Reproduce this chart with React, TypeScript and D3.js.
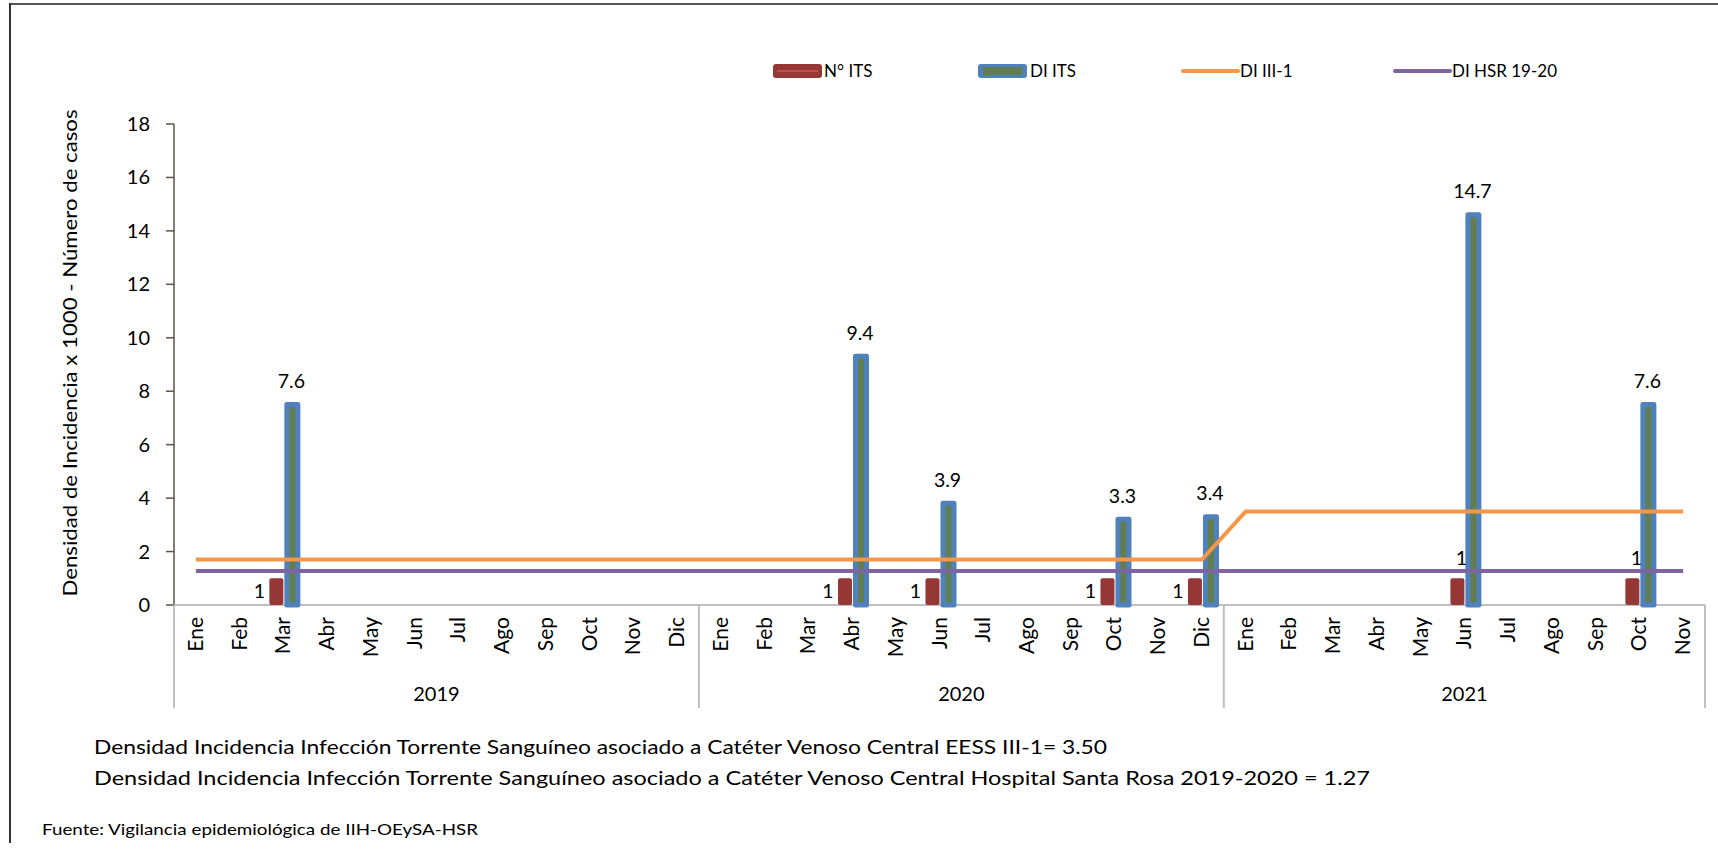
import React from "react";
import * as d3 from "d3";

const years = ["2019", "2020", "2021"];
const monthsPerYear = [12, 12, 11];
const monthNames = ["Ene", "Feb", "Mar", "Abr", "May", "Jun", "Jul", "Ago", "Sep", "Oct", "Nov", "Dic"];

// N° ITS (cases) per month, 2019-01 .. 2021-11
const nITS: (number | null)[] = [
  null, null, 1, null, null, null, null, null, null, null, null, null,
  null, null, null, 1, null, 1, null, null, null, 1, null, 1,
  null, null, null, null, null, 1, null, null, null, 1, null,
];
// DI ITS (density) per month
const diITS: (number | null)[] = [
  null, null, 7.6, null, null, null, null, null, null, null, null, null,
  null, null, null, 9.4, null, 3.9, null, null, null, 3.3, null, 3.4,
  null, null, null, null, null, 14.7, null, null, null, 7.6, null,
];
// DI III-1 reference
const diIII1: number[] = [
  1.7, 1.7, 1.7, 1.7, 1.7, 1.7, 1.7, 1.7, 1.7, 1.7, 1.7, 1.7,
  1.7, 1.7, 1.7, 1.7, 1.7, 1.7, 1.7, 1.7, 1.7, 1.7, 1.7, 1.7,
  3.5, 3.5, 3.5, 3.5, 3.5, 3.5, 3.5, 3.5, 3.5, 3.5, 3.5,
];
// DI HSR 19-20 reference
const diHSR: number[] = [
  1.27, 1.27, 1.27, 1.27, 1.27, 1.27, 1.27, 1.27, 1.27, 1.27, 1.27, 1.27,
  1.27, 1.27, 1.27, 1.27, 1.27, 1.27, 1.27, 1.27, 1.27, 1.27, 1.27, 1.27,
  1.27, 1.27, 1.27, 1.27, 1.27, 1.27, 1.27, 1.27, 1.27, 1.27, 1.27,
];
const yTicks = [0, 2, 4, 6, 8, 10, 12, 14, 16, 18];

const legendItems = ["N° ITS", "DI ITS", "DI III-1", "DI HSR 19-20"];
const yTitle = "Densidad de Incidencia x 1000 - Número de casos";
const footer1 = "Densidad Incidencia Infección Torrente Sanguíneo asociado a Catéter Venoso Central EESS III-1= 3.50";
const footer2 = "Densidad Incidencia Infección Torrente Sanguíneo asociado a Catéter Venoso Central Hospital Santa Rosa 2019-2020  = 1.27";
const source = "Fuente: Vigilancia epidemiológica de IIH-OEySA-HSR";

const FONT = "Lato, 'Open Sans', sans-serif";
const RED = "#953735";
const BLUE = "#4F81BD";
const GREEN = "#617d52";
const ORANGE = "#F79646";
const PURPLE = "#8064A2";

export default function App() {
  const W = 1718, H = 853;
  const plotL = 174, plotR = 1705, plotT = 124, plotB = 605;

  const cats: { key: string; month: string; yearIdx: number }[] = [];
  years.forEach((y, yi) => {
    for (let m = 0; m < monthsPerYear[yi]; m++) cats.push({ key: `${y}-${m}`, month: monthNames[m], yearIdx: yi });
  });

  const x = d3.scaleBand<string>().domain(cats.map((c) => c.key)).range([plotL, plotR]).paddingInner(0).paddingOuter(0);
  const bw = x.bandwidth();
  const inner = d3.scaleBand<string>().domain(["n", "di"]).range([bw / 2 - 14, bw / 2 + 16]).padding(0);
  const y = d3.scaleLinear().domain([0, 18]).range([plotB, plotT]);
  const cx = (i: number) => (x(cats[i].key) as number) + bw / 2;

  const line = d3.line<number>().x((_, i) => cx(i)).y((d) => y(d));

  const yearBounds: number[] = [plotL];
  let acc = 0;
  monthsPerYear.forEach((n) => {
    acc += n;
    yearBounds.push(acc < cats.length ? (x(cats[acc].key) as number) : plotR);
  });

  const legendX = [773, 978, 1183, 1395];
  const legendY = 71;

  return (
    <svg width={W} height={H} style={{ position: "absolute", left: 0, top: 0, background: "#fff" }} fontFamily={FONT}>
      <rect x={0} y={0} width={W} height={H} fill="#fff" />
      {/* frame */}
      <line x1={10} y1={4} x2={W} y2={4} stroke="#555" strokeWidth={2} />
      <line x1={10} y1={3} x2={10} y2={843} stroke="#333" strokeWidth={2} />

      {/* legend */}
      <g fontSize={17} fill="#000">
        <rect x={legendX[0]} y={legendY - 7} width={49} height={14} rx={3} fill={RED} />
        <line x1={legendX[0] + 4} x2={legendX[0] + 45} y1={legendY} y2={legendY} stroke="#C0504D" strokeWidth={2} />
        <text x={legendX[0] + 51} y={legendY + 6}>{legendItems[0]}</text>

        <rect x={legendX[1]} y={legendY - 7} width={49} height={14} rx={3} fill={BLUE} />
        <rect x={legendX[1] + 5} y={legendY - 4} width={39} height={8} fill={GREEN} />
        <text x={legendX[1] + 52} y={legendY + 6}>{legendItems[1]}</text>

        <line x1={legendX[2]} x2={legendX[2] + 55} y1={legendY} y2={legendY} stroke={ORANGE} strokeWidth={4} strokeLinecap="round" />
        <text x={legendX[2] + 57} y={legendY + 6}>{legendItems[2]}</text>

        <line x1={legendX[3]} x2={legendX[3] + 55} y1={legendY} y2={legendY} stroke={PURPLE} strokeWidth={4} strokeLinecap="round" />
        <text x={legendX[3] + 57} y={legendY + 6}>{legendItems[3]}</text>
      </g>

      {/* y axis */}
      <line x1={plotL} x2={plotL} y1={plotT} y2={plotB} stroke="#5b5646" strokeWidth={1.5} />
      {yTicks.map((t) => (
        <g key={t}>
          <line x1={plotL - 8} x2={plotL} y1={y(t)} y2={y(t)} stroke="#5b5646" strokeWidth={1.5} />
          <text x={150} y={y(t) + 7} textAnchor="end" fontSize={20}>{t}</text>
        </g>
      ))}
      <text transform={`translate(77,353) rotate(-90)`} textAnchor="middle" fontSize={19.5} textLength={487} lengthAdjust="spacingAndGlyphs">
        {yTitle}
      </text>

      {/* category axis */}
      <line x1={plotL} x2={plotR} y1={plotB} y2={plotB} stroke="#BFBFBF" strokeWidth={2} />
      {yearBounds.map((b, i) => (
        <line key={i} x1={b} x2={b} y1={plotB} y2={708} stroke="#BFBFBF" strokeWidth={2} />
      ))}
      {cats.map((c, i) => (
        <text key={c.key} transform={`translate(${cx(i) + 7},617) rotate(-90)`} textAnchor="end" fontSize={21}>
          {c.month}
        </text>
      ))}
      {years.map((yr, i) => (
        <text key={yr} x={(yearBounds[i] + yearBounds[i + 1]) / 2} y={701} textAnchor="middle" fontSize={20}>
          {yr}
        </text>
      ))}

      {/* bars */}
      {nITS.map((v, i) =>
        v == null ? null : (
          <rect key={`n${i}`} x={(x(cats[i].key) as number) + (inner("n") as number)} y={y(v)} width={14}
            height={y(0) - y(v)} fill={RED} rx={2} />
        )
      )}
      {diITS.map((v, i) =>
        v == null ? null : (
          <rect key={`d${i}`} x={(x(cats[i].key) as number) + (inner("di") as number) + 2.5} y={y(v) + 2.5} width={11}
            height={y(0) - y(v) - 2.5} fill={GREEN} stroke={BLUE} strokeWidth={5} strokeLinejoin="round" />
        )
      )}

      {/* lines */}
      <path d={line(diIII1) as string} fill="none" stroke={ORANGE} strokeWidth={4} />
      <path d={line(diHSR) as string} fill="none" stroke={PURPLE} strokeWidth={4} />

      {/* labels */}
      {nITS.map((v, i) =>
        v == null ? null : cats[i].yearIdx < 2 ? (
          <text key={`ln${i}`} x={cx(i) - 24} y={y(0) - 7} textAnchor="middle" fontSize={19.5}>{v}</text>
        ) : (
          <text key={`ln${i}`} x={cx(i) - 3} y={y(v) - 13} textAnchor="middle" fontSize={19.5}>{v}</text>
        )
      )}
      {diITS.map((v, i) =>
        v == null ? null : (
          <text key={`ld${i}`} x={cx(i) + 8} y={y(v) - 14} textAnchor="middle" fontSize={19.5}>{v.toFixed(1)}</text>
        )
      )}

      {/* footer */}
      <text x={94} y={754} fontSize={19} textLength={1013} lengthAdjust="spacingAndGlyphs">{footer1}</text>
      <text x={94} y={785} fontSize={19} textLength={1276} lengthAdjust="spacingAndGlyphs">{footer2}</text>
      <text x={42} y={835} fontSize={15} textLength={436} lengthAdjust="spacingAndGlyphs">{source}</text>
    </svg>
  );
}
